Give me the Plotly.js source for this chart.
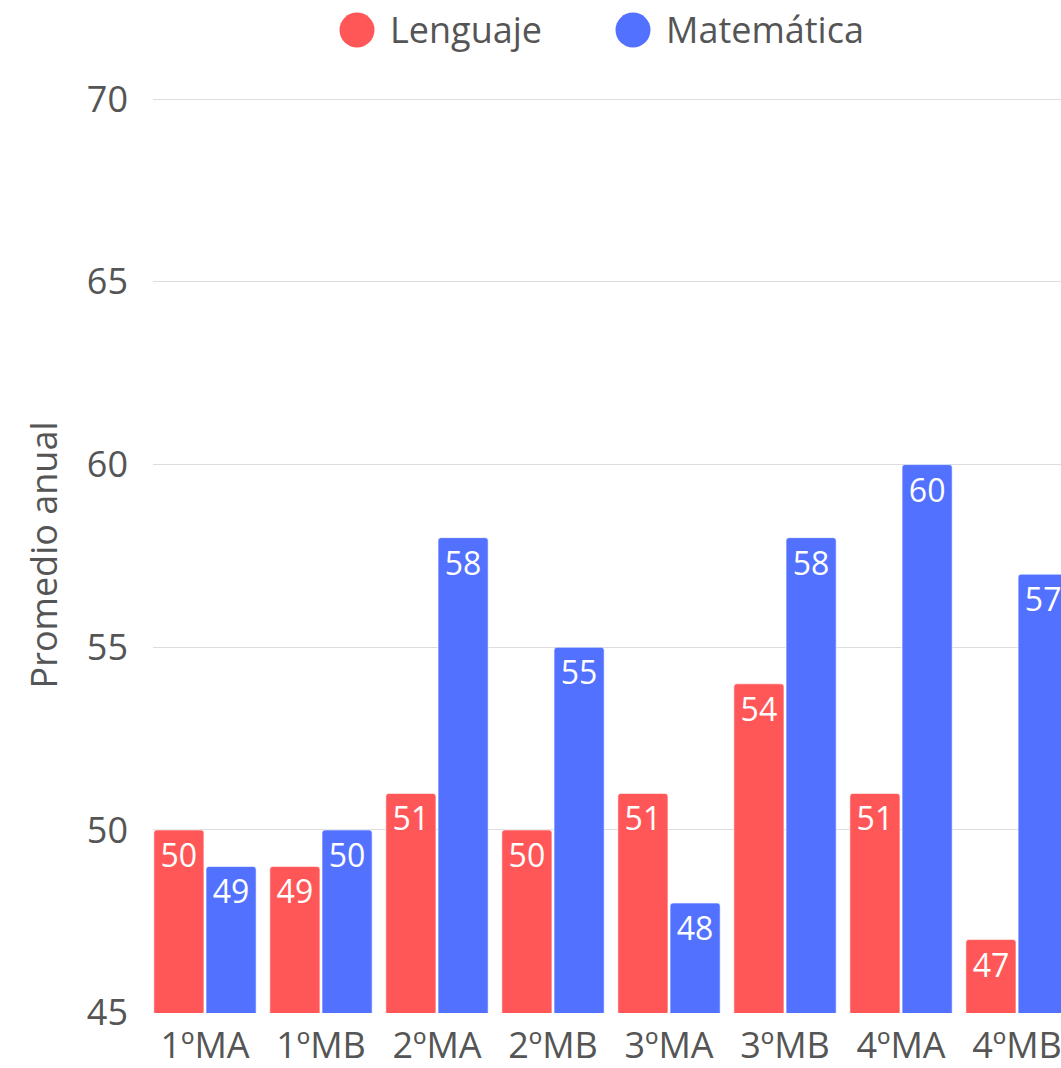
<!DOCTYPE html>
<html>
<head>
<meta charset="utf-8">
<script src="https://cdn.plot.ly/plotly-3.0.1.min.js"></script>
<style>
  html, body { margin: 0; padding: 0; background: #fff; overflow: hidden; }
  #chart { width: 1061px; height: 1068px; }
</style>
</head>
<body>
<div id="chart"></div>
<script>
const categories = ["1ºMA", "1ºMB", "2ºMA", "2ºMB", "3ºMA", "3ºMB", "4ºMA", "4ºMB"];
const seriesNames = ["Lenguaje", "Matemática"];
const lenguaje = [50, 49, 51, 50, 51, 54, 51, 47];
const matematica = [49, 50, 58, 55, 48, 58, 60, 57];
const yTicks = [45, 50, 55, 60, 65, 70];
const colors = ["#FF5757", "#5271FF"];

const FONT = "Open Sans, Noto Sans, sans-serif";
const TXT = "#555555";

const W = 1061, Hh = 1068;
const M = { l: 153, r: 0, t: 97, b: 55 };
const PW = W - M.l - M.r, PH = Hh - M.t - M.b;

function barTrace(name, values, color) {
  return {
    type: "bar",
    name: name,
    x: categories,
    y: values,
    marker: { color: color, cornerradius: 3, line: { color: "rgba(255,255,255,0.6)", width: 1 } },
    text: values.map(String),
    textposition: "inside",
    insidetextanchor: "end",
    textangle: 0,
    textfont: { color: "#ffffff", size: 32, family: FONT },
    constraintext: "none",
    showlegend: false,
    hoverinfo: "skip"
  };
}

const data = [
  barTrace(seriesNames[0], lenguaje, colors[0]),
  barTrace(seriesNames[1], matematica, colors[1])
];

// custom legend with large circles (pixel positions converted to paper coords)
const legendX = [357, 633];
const legendY = 30;
const py = (Hh - M.b - legendY) / PH;
const shapes = [];
const annotations = [];
seriesNames.forEach((n, i) => {
  shapes.push({
    type: "circle", xref: "paper", yref: "paper",
    xsizemode: "pixel", ysizemode: "pixel",
    xanchor: (legendX[i] - M.l) / PW, yanchor: py,
    x0: -17.5, x1: 17.5, y0: -17.5, y1: 17.5,
    fillcolor: colors[i], line: { width: 0 }
  });
  annotations.push({
    xref: "paper", yref: "paper",
    x: (legendX[i] + 31 - M.l) / PW, y: py,
    xanchor: "left", yanchor: "middle",
    text: n, showarrow: false,
    font: { size: 36, color: TXT, family: FONT }
  });
});

const layout = {
  width: W, height: Hh,
  margin: { l: M.l, r: M.r, t: M.t, b: M.b, pad: 0 },
  paper_bgcolor: "#ffffff", plot_bgcolor: "#ffffff",
  font: { family: FONT, color: TXT, size: 36 },
  barmode: "group",
  bargap: 0.1,
  bargroupgap: 0.04,
  showlegend: false,
  xaxis: {
    type: "category",
    range: [-0.448, 7.379],
    showgrid: false, zeroline: false, showline: false,
    ticks: "", ticklabelstandoff: 8,
    tickfont: { size: 36, color: TXT, family: FONT },
    fixedrange: true
  },
  yaxis: {
    range: [44.99, 70.06],
    tickvals: yTicks,
    ticktext: yTicks.map(String),
    showgrid: true, gridcolor: "#dddddd", gridwidth: 1,
    zeroline: false, showline: false, ticks: "",
    ticklabelstandoff: 24,
    tickfont: { size: 36, color: TXT, family: FONT },
    title: { text: "Promedio anual", font: { size: 36, color: TXT, family: FONT }, standoff: 18 },
    fixedrange: true
  },
  shapes: shapes,
  annotations: annotations
};

Plotly.newPlot("chart", data, layout, { displayModeBar: false, staticPlot: true });
</script>
</body>
</html>
